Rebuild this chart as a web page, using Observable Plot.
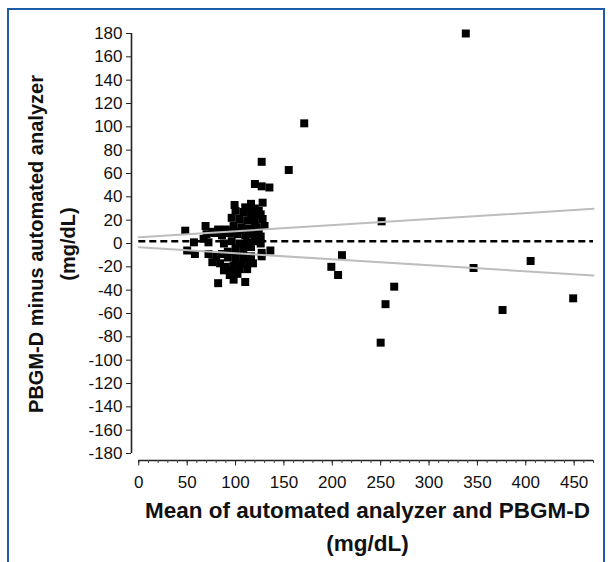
<!DOCTYPE html>
<html><head><meta charset="utf-8">
<script src="https://cdn.jsdelivr.net/npm/d3@7"></script>
<script src="https://cdn.jsdelivr.net/npm/@observablehq/plot@0.6"></script>
<style>
body{margin:0;background:#fff;overflow:hidden}
#wrap{position:relative;width:608px;height:562px;overflow:hidden}
#border{position:absolute;left:7px;top:8px;width:594px;height:620px;border:2px solid #1f5ca8;pointer-events:none}
</style></head><body><div id="wrap"><div id="border"></div></div>
<script>
// Mean of the two methods (mg/dL)
const meanX = [
  338, 171, 127, 155, 120, 127, 135,
  99, 116, 128, 114, 110, 120,
  100, 108, 116, 124, 104, 112, 120, 128, 98, 106, 114, 122, 130, 118, 126, 96,
  100, 108, 116, 124, 90, 82, 76,
  70, 78, 86, 94, 102, 110, 118, 126, 72, 88, 96, 104, 112, 120, 67,
  92, 100, 108, 116,
  72, 80, 86, 76, 84,
  92, 100, 108, 116, 90, 98, 106, 114, 94, 102, 98, 88, 96, 104, 100, 108, 118, 112,
  82, 110, 126, 136, 127, 127,
  48, 69, 57, 50, 58,
  199, 206, 210, 251, 250, 255, 264, 346, 376, 405, 449
];
// Difference PBGM-D minus automated analyzer (mg/dL)
const diffY = [
  180, 103, 70, 63, 51, 49, 48,
  33, 34, 35, 30, 31, 30,
  28, 27, 26, 28, 21, 20, 19, 21, 15, 14, 13, 14, 15, 24, 25, 22,
  10, 12, 11, 10, 12, 12, 10,
  8, 9, 7, 9, 8, 7, 8, 6, 1, 0, 2, 0, 1, 2, 4,
  -7, -4, -2, -3,
  -9, -11, -9, -16, -17,
  -12, -10, -8, -11, -20, -19, -17, -16, -27, -26, -31, -23, -23, -22, -15, -13, -17, -22,
  -34, -33, 0, -6, -8, -11,
  11, 15, 1, -6, -9,
  -20, -27, -10, 19, -85, -52, -37, -21, -57, -15, -47
];
const xMajorTicks = [0, 50, 100, 150, 200, 250, 300, 350, 400, 450];
const xMinorTicks = [0,10,20,30,40,50,60,70,80,90,100,110,120,130,140,150,160,170,180,190,200,210,220,230,240,250,260,270,280,290,300,310,320,330,340,350,360,370,380,390,400,410,420,430,440,450,460,470];
const yTicks = [-180,-160,-140,-120,-100,-80,-60,-40,-20,0,20,40,60,80,100,120,140,160,180];
const meanDiff = 2;
const limitX = [0, 470];
const upperY = [5.4, 29.7];
const lowerY = [-3.2, -27.4];
const xTitle = ["Mean of automated analyzer and PBGM-D", "(mg/dL)"];
const yTitle = ["PBGM-D minus automated analyzer", "(mg/dL)"];

const points = meanX.map((x, i) => ({x, y: diffY[i]}));
const limits = [
  ...limitX.map((x, i) => ({x, y: upperY[i], k: "upper"})),
  ...limitX.map((x, i) => ({x, y: lowerY[i], k: "lower"}))
];
const plain = d => String(d);
const titleStyle = {fontWeight: "bold", fill: "#111", textAnchor: "middle", lineAnchor: "bottom"};

const chart = Plot.plot({
  width: 608, height: 562,
  marginLeft: 131, marginRight: 15, marginTop: 33, marginBottom: 102,
  style: {fontFamily: "'Liberation Sans', Arial, Helvetica, sans-serif", color: "#111", background: "transparent", overflow: "visible"},
  x: {domain: [0, 470], range: [138.3, 593], axis: null},
  y: {domain: [-180, 180], range: [453, 33], axis: null},
  marks: [
    Plot.ruleX([0], {y1: -180, y2: 180, dx: -7.3, stroke: "#222", strokeWidth: 1.6}),
    Plot.ruleY([-180], {x1: 0, x2: 470, dy: 7, stroke: "#222", strokeWidth: 1.6}),
    Plot.axisY(yTicks, {anchor: "left", tickSize: 5, tickPadding: 4, fontSize: 17, label: null, stroke: "#222", tickFormat: plain}),
    Plot.axisX(xMinorTicks, {anchor: "bottom", tickSize: 3, tickFormat: () => "", label: null, stroke: "#444"}),
    Plot.axisX(xMajorTicks, {anchor: "bottom", tickSize: 5.5, tickPadding: 9.5, fontSize: 17, label: null, stroke: "#222", tickFormat: plain}),
    Plot.dot(points, {x: "x", y: "y", symbol: "square", r: 4.5, fill: "#000", stroke: null}),
    Plot.line(limits, {x: "x", y: "y", z: "k", stroke: "#bdbdbd", strokeWidth: 2}),
    Plot.ruleY([meanDiff], {x1: 0, x2: 470, stroke: "#000", strokeWidth: 2.5, strokeDasharray: "7,4"}),
    Plot.text([xTitle[0]], {...titleStyle, text: d => d, frameAnchor: "bottom", dx: 5, dy: 57, fontSize: 22.5}),
    Plot.text([xTitle[1]], {...titleStyle, text: d => d, frameAnchor: "bottom", dx: 5, dy: 90, fontSize: 22.5}),
    Plot.text([yTitle[0]], {...titleStyle, text: d => d, frameAnchor: "left", rotate: -90, dx: -89, dy: -3, fontSize: 20}),
    Plot.text([yTitle[1]], {...titleStyle, text: d => d, frameAnchor: "left", rotate: -90, dx: -57, dy: -3, fontSize: 20})
  ]
});
chart.style.position = "absolute";
chart.style.left = "0";
chart.style.top = "0";
document.getElementById("wrap").prepend(chart);
</script>
</body></html>
